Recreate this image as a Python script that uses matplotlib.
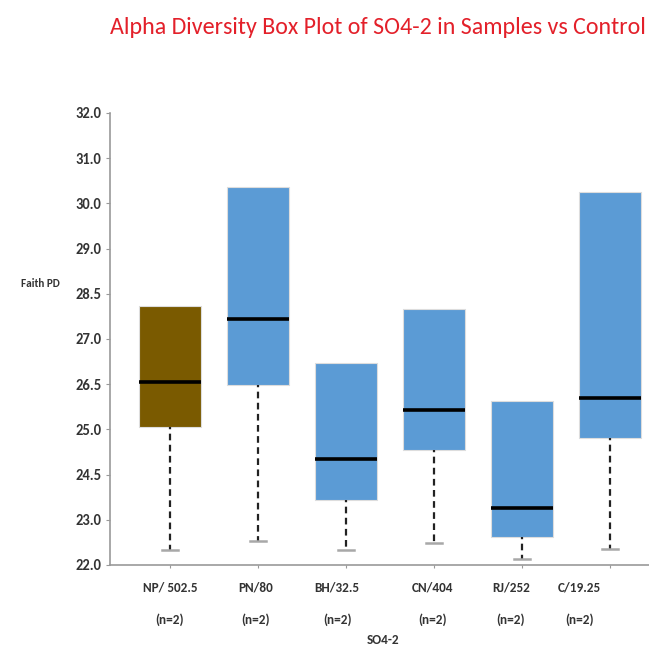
import numpy as np
import matplotlib
matplotlib.use("Agg")
import matplotlib.pyplot as plt
import matplotlib.transforms as mtransforms
from matplotlib import font_manager

# Faith PD values per SO4-2 sample group
groups = ["NP/ 502.5", "PN/80", "BH/32.5", "CN/404", "RJ/252", "C/19.25"]
counts = ["(n=2)"] * 6
q1 = [25.08, 26.47, 23.66, 24.77, 22.61, 24.90]
medians = [26.52, 27.66, 24.67, 25.63, 23.39, 26.05]
q3 = [28.11, 30.37, 26.74, 28.00, 25.93, 30.26]
whisker_low = [22.33, 22.54, 22.33, 22.48, 22.13, 22.35]
colors = ["#7A5A00", "#5B9BD5", "#5B9BD5", "#5B9BD5", "#5B9BD5", "#5B9BD5"]

# y-axis tick values (evenly spaced on the axis)
ytick_values = [22.0, 23.0, 24.5, 25.0, 26.5, 27.0, 28.5, 29.0, 30.0, 31.0, 32.0]
ytick_labels = ["22.0", "23.0", "24.5", "25.0", "26.5", "27.0", "28.5", "29.0", "30.0", "31.0", "32.0"]

available = {f.name for f in font_manager.fontManager.ttflist}
if "Carlito" in available:
    plt.rcParams["font.family"] = ["Carlito", "DejaVu Sans"]
else:
    plt.rcParams["font.family"] = ["DejaVu Sans"]
    plt.rcParams["font.stretch"] = "condensed"

idx = np.arange(len(ytick_values), dtype=float)


def forward(v):
    return np.interp(v, ytick_values, idx)


def inverse(i):
    return np.interp(i, idx, ytick_values)


fig = plt.figure(figsize=(6.49, 6.48), dpi=100)
ax = fig.add_axes([110 / 649, 1 - 565 / 648, 1 - 110 / 649, (565 - 113) / 648])
ax.set_yscale("function", functions=(forward, inverse))

positions = np.arange(len(groups))
stats = []
for i in range(len(groups)):
    stats.append(dict(med=medians[i], q1=q1[i], q3=q3[i],
                      whislo=whisker_low[i], whishi=q3[i], fliers=[]))

bp = ax.bxp(stats, positions=positions, widths=0.70, patch_artist=True,
            showfliers=False,
            boxprops=dict(linewidth=0.8, edgecolor="#dddddd"),
            medianprops=dict(color="black", linewidth=2.6),
            whiskerprops=dict(color="#222222", linewidth=1.6, linestyle=(2, (3, 2))),
            capprops=dict(color="#a8a8a8", linewidth=1.8),
            capwidths=0.18)
for patch, c in zip(bp["boxes"], colors):
    patch.set_facecolor(c)
for cap in bp["caps"][1::2]:
    cap.set_visible(False)

ax.set_xlim(-0.68, 5.44)
ax.set_ylim(22.0, inverse(10.04))
ax.set_yticks(ytick_values)
ax.set_yticklabels(ytick_labels, fontsize=10.5, fontweight="bold", color="#333333")
ax.minorticks_off()
ax.set_xticks(positions)
ax.set_xticklabels([])
ax.tick_params(axis="x", length=2, color="#999999")
ax.tick_params(axis="y", length=3, color="#999999", pad=3)

for side in ("top", "right"):
    ax.spines[side].set_visible(False)
for side in ("left", "bottom"):
    ax.spines[side].set_color("#999999")
    ax.spines[side].set_linewidth(1.2)

# category labels beneath the axis
label_shift = [0.0, -0.03, -0.10, -0.02, -0.13, -0.35]
trans = mtransforms.blended_transform_factory(ax.transData, fig.transFigure)
for i, (g, n) in enumerate(zip(groups, counts)):
    x = positions[i] + label_shift[i]
    ax.text(x, 1 - 588 / 648, g, transform=trans, ha="center", va="center",
            fontsize=9.5, fontweight="bold", color="#333333")
    ax.text(x, 1 - 620 / 648, n, transform=trans, ha="center", va="center",
            fontsize=9.5, fontweight="bold", color="#333333")

fig.text(383 / 649, 1 - 640 / 648, "SO4-2", ha="center", va="center",
         fontsize=9.5, fontweight="bold", color="#333333")
fig.text(40 / 649, 1 - 283 / 648, "Faith PD", ha="center", va="center",
         fontsize=8, fontweight="bold", color="#333333")

title = fig.text(110 / 649, 1 - 28 / 648,
                 "Alpha Diversity Box Plot of SO4-2 in Samples vs Control",
                 ha="left", va="center", fontsize=20, color="#E3202A")
# fit the title between x=110 and x=646 px
renderer = fig.canvas.get_renderer()
w = title.get_window_extent(renderer).width
title.set_fontsize(20 * 536 / w)

fig.savefig("out.png", dpi=100)
